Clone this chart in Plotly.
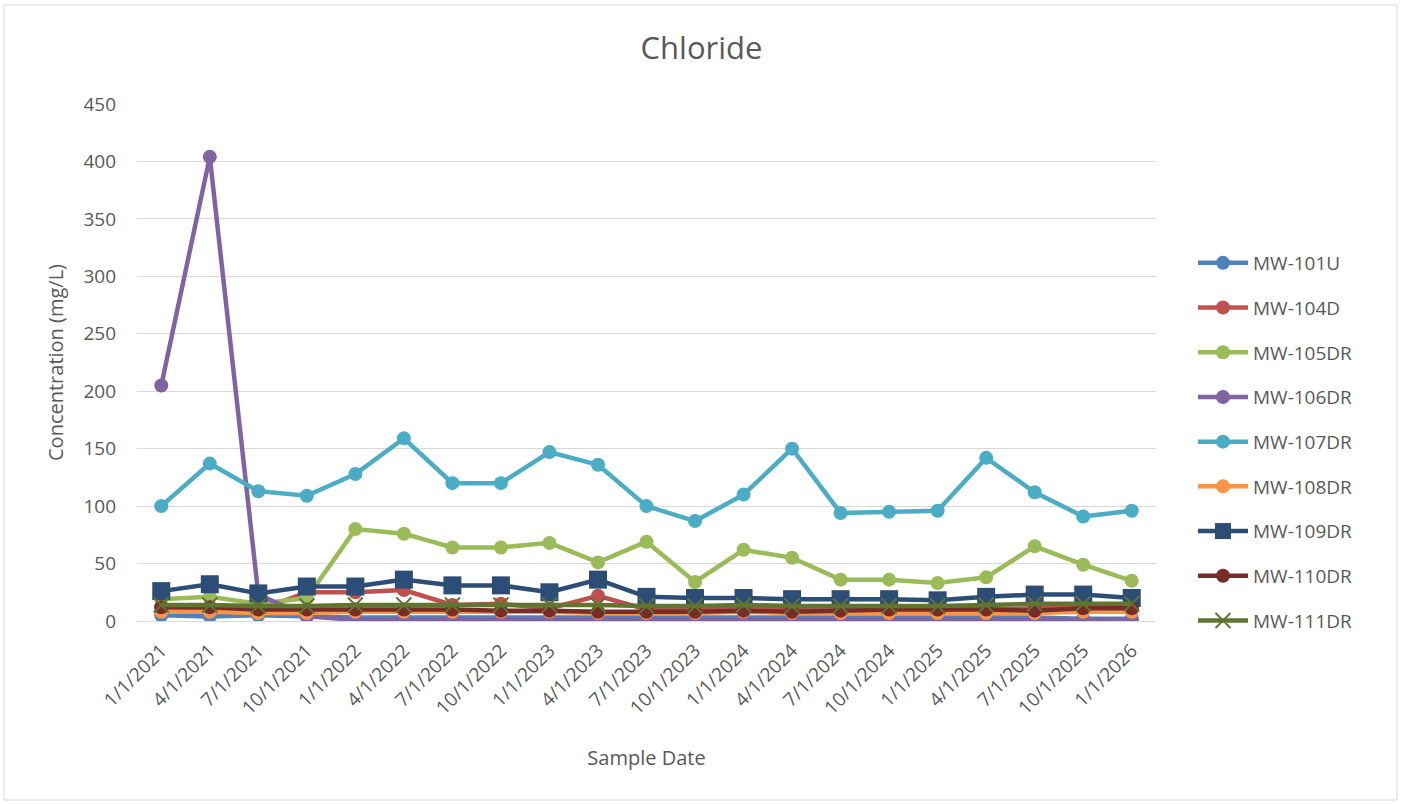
import plotly.graph_objects as go

dates = ["1/1/2021","4/1/2021","7/1/2021","10/1/2021","1/1/2022","4/1/2022","7/1/2022",
         "10/1/2022","1/1/2023","4/1/2023","7/1/2023","10/1/2023","1/1/2024","4/1/2024",
         "7/1/2024","10/1/2024","1/1/2025","4/1/2025","7/1/2025","10/1/2025","1/1/2026"]

mw101u  = [5,4,5,4,3,3,3,3,3,3,3,3,3,3,3,3,3,3,3,2,2]
mw104d  = [12,11,9,25,25,27,14,15,11,22,10,10,11,10,10,10,10,10,11,11,12]
mw105dr = [19,21,15,20,80,76,64,64,68,51,69,34,62,55,36,36,33,38,65,49,35]
mw106dr = [205,404,23,4,1,1,1,1,1,1,1,1,1,1,1,1,1,1,1,1,1]
mw107dr = [100,137,113,109,128,159,120,120,147,136,100,87,110,150,94,95,96,142,112,91,96]
mw108dr = [8,8,7,7,8,8,8,8,8,7,7,7,8,7,7,7,7,7,7,8,8]
mw109dr = [26,32,24,30,30,36,31,31,25,36,21,20,20,19,19,19,18,21,23,23,20]
mw110dr = [12,12,10,10,10,10,10,9,9,8,8,8,9,8,9,10,10,10,9,11,11]
mw111dr = [14,14,13,13,14,14,14,14,14,14,13,13,14,13,13,13,13,14,15,15,15]

series = [
    ("MW-101U", mw101u, "#4F81BD", "circle", 14),
    ("MW-104D", mw104d, "#C0504D", "circle", 14),
    ("MW-105DR", mw105dr, "#9BBB59", "circle", 14),
    ("MW-106DR", mw106dr, "#8064A2", "circle", 14),
    ("MW-107DR", mw107dr, "#4BACC6", "circle", 14),
    ("MW-108DR", mw108dr, "#F79646", "circle", 14),
    ("MW-109DR", mw109dr, "#2C4D75", "square", 18),
    ("MW-110DR", mw110dr, "#772C2A", "circle", 14),
    ("MW-111DR", mw111dr, "#5F7530", "x-thin-open", 15),
]

fig = go.Figure()
for name, vals, color, sym, size in series:
    fig.add_trace(go.Scatter(
        x=dates, y=vals, name=name, mode="lines+markers",
        line=dict(color=color, width=4.5),
        marker=dict(symbol=sym, size=size, color=color,
                    line=dict(color=color, width=2 if sym.startswith("x") else 0)),
        legendgroup=name,
    ))

font = "'Open Sans', 'Noto Sans', sans-serif"
W, H = 1403, 804
L, R, T, B = 137, 247, 104, 183
fig.update_layout(
    width=W, height=H,
    margin=dict(l=L, r=R, t=T, b=B),
    paper_bgcolor="white", plot_bgcolor="white",
    font=dict(family=font, color="#595959", size=19),
    title=dict(text="Chloride", x=0.5, xanchor="center", xref="container",
               y=1 - 48/H, yanchor="middle", yref="container",
               font=dict(size=31, color="#595959")),
    xaxis=dict(type="category", tickangle=-45, showgrid=False,
               linecolor="#D9D9D9", linewidth=1, ticks="",
               tickfont=dict(size=19, color="#595959"), ticklabelstandoff=10,
               title=dict(text="Sample Date", font=dict(size=20, color="#595959"), standoff=32),
               range=[-0.5, 20.5]),
    yaxis=dict(range=[0, 450], dtick=50, showgrid=True, gridcolor="#D9D9D9", gridwidth=1,
               zeroline=False, showline=False, ticks="",
               tickfont=dict(size=19, color="#595959"), ticklabelstandoff=20,
               title=dict(text="Concentration (mg/L)", font=dict(size=20, color="#595959"), standoff=14)),
    legend=dict(x=(1193 - L) / (W - L - R), xanchor="left",
                y=(H - B - 244) / (H - T - B), yanchor="top",
                font=dict(size=19, color="#595959"), tracegroupgap=17,
                itemwidth=50),
    showlegend=True,
)

# outer chart border
pw = W - L - R
ph = H - T - B
fig.add_shape(type="rect", xref="paper", yref="paper",
              x0=(4 - L) / pw, x1=(1397 - L) / pw,
              y0=(H - 800 - B) / ph, y1=(H - 5 - B) / ph,
              line=dict(color="#D9D9D9", width=1), layer="below")

fig.write_html("out.html", config={"displayModeBar": False},
               post_script="document.body.style.margin='0';document.body.style.padding='0';")
